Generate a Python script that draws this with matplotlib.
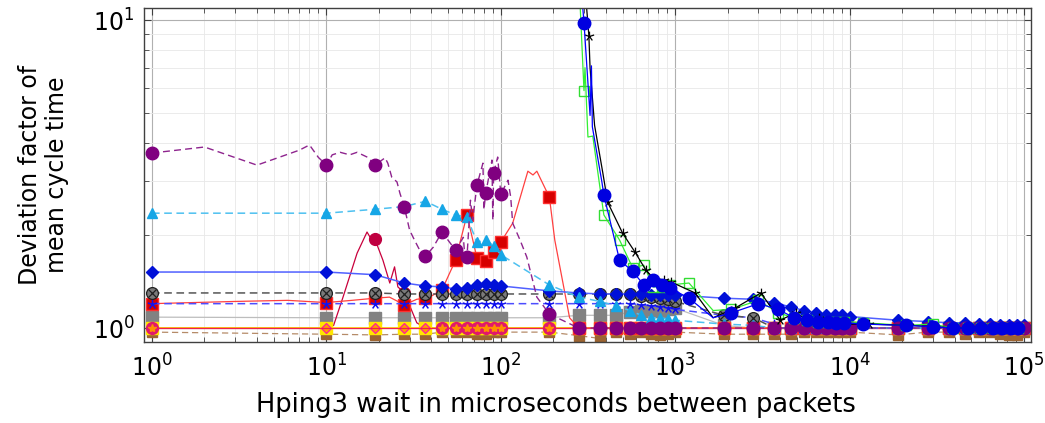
import numpy as np
import matplotlib
matplotlib.use("Agg")
import matplotlib.pyplot as plt
from matplotlib.path import Path
from matplotlib.ticker import LogLocator, NullFormatter

plt.rcParams["font.family"] = ["DejaVu Sans"]
plt.rcParams["mathtext.default"] = "regular"

# marker positions shared by most series (wait in microseconds)
X = [1, 10, 19, 28, 37, 46, 55, 64, 73, 82, 91, 100,
     190, 280, 370, 460, 550, 640, 730, 820, 910, 1000,
     1900, 2800, 3700, 4600, 5500, 6400, 7300, 8200, 9100, 10000,
     19000, 28000, 37000, 46000, 55000, 64000, 73000, 82000, 91000, 100000]

purple = [3.70, 3.38, 3.38, 2.47, 1.71, 2.05, 1.79, 1.70, 2.91, 2.74, 3.18, 2.72,
          1.11, 1.0, 1.0, 1.0, 1.0, 1.0, 1.0, 1.0, 1.0, 1.0,
          1.0, 1.0, 1.0, 1.0, 1.0, 1.0, 1.0, 1.0, 1.0, 1.0,
          1.0, 1.0, 1.0, 1.0, 1.0, 1.0, 1.0, 1.0, 1.0, 1.0]
purple_x_extra = [2, 4, 7, 8, 9, 10.8, 12, 13.6, 15, 17.3, 21.7, 22.5, 23.7, 25.4, 26.4,
                  30, 32, 35, 41, 61, 62, 67, 69, 79, 80, 89, 90, 96, 110, 114, 117,
                  129, 141, 161]
purple_y_extra = [3.87, 3.38, 3.78, 3.93, 3.58, 3.65, 3.72, 3.65, 3.72, 3.58, 3.57, 3.43,
                  3.09, 2.98, 2.74, 2.08, 1.93, 1.75, 1.83, 1.97, 1.75, 2.60, 2.24, 3.43,
                  2.42, 3.51, 2.24, 3.59, 3.02, 2.66, 2.19, 1.93, 1.70, 1.26]

skyblue = [2.36, 2.36, 2.43, 2.48, 2.58, 2.43, 2.33, 2.29, 1.90, 1.93, 1.85, 1.73,
           1.38, 1.26, 1.22, 1.18, 1.14, 1.10, 1.08, 1.08, 1.07, 1.06,
           1.03, 1.02, 1.0, 1.0, 1.0, 1.0, 1.0, 1.0, 1.0, 1.0,
           1.0, 1.0, 1.0, 1.0, 1.0, 1.0, 1.0, 1.0, 1.0, 1.0]

diamond_blue = [1.52, 1.52, 1.49, 1.40, 1.37, 1.36, 1.34, 1.35, 1.38, 1.39, 1.38, 1.37,
                1.32, 1.30, 1.29, 1.29, 1.29, 1.29, 1.28, 1.28, 1.28, 1.28,
                1.25, 1.24, 1.21, 1.17, 1.14, 1.12, 1.10, 1.10, 1.10, 1.09,
                1.06, 1.05, 1.04, 1.04, 1.03, 1.03, 1.02, 1.02, 1.02, 1.02]

gray_x = [1.30, 1.30, 1.30, 1.29, 1.29, 1.29, 1.29, 1.29, 1.29, 1.29, 1.29, 1.29,
          1.29, 1.29, 1.29, 1.29, 1.29, 1.27, 1.26, 1.25, 1.24, 1.22,
          1.10, 1.08, 1.0, 1.0, 1.0, 1.0, 1.0, 1.0, 1.0, 1.0,
          1.0, 1.0, 1.0, 1.0, 1.0, 1.0, 1.0, 1.0, 1.0, 1.0]

blue_star = [1.20, 1.20, 1.20, 1.20, 1.20, 1.20, 1.20, 1.20, 1.20, 1.20, 1.20, 1.20,
             1.20, 1.20, 1.20, 1.20, 1.20, 1.19, 1.18, 1.17, 1.16, 1.15,
             1.10, 1.08, 1.03, 1.0, 1.0, 1.0, 1.0, 1.0, 1.0, 1.0,
             1.0, 1.0, 1.0, 1.0, 1.0, 1.0, 1.0, 1.0, 1.0, 1.0]

red = [1.20, 1.21, 1.25, 1.19, 1.25, 1.33, 1.66, 2.33, 1.69, 1.65, 1.77, 1.90,
       2.66, 1.0, 1.0, 1.0, 1.0, 1.0, 1.0, 1.0, 1.0, 1.0,
       1.0, 1.0, 1.0, 1.0, 1.0, 1.0, 1.0, 1.0, 1.0, 1.0,
       1.0, 1.0, 1.0, 1.0, 1.0, 1.0, 1.0, 1.0, 1.0, 1.0]
red_x_extra = [3, 6, 14, 23, 33, 41, 117, 143, 153, 161, 204, 248]
red_y_extra = [1.22, 1.23, 1.23, 1.26, 1.24, 1.28, 2.19, 3.23, 3.14, 3.23, 1.93, 1.08]

crimson = [1.0, 1.0, 1.94, 1.30, 1.0, 1.0, 1.0, 1.0, 1.0, 1.0, 1.0, 1.0,
           1.0, 1.0, 1.0, 1.0, 1.0, 1.0, 1.0, 1.0, 1.0, 1.0,
           1.0, 1.0, 1.0, 1.0, 1.0, 1.0, 1.0, 1.0, 1.0, 1.0,
           1.0, 1.0, 1.0, 1.0, 1.0, 1.0, 1.0, 1.0, 1.0, 1.0]
crimson_x_extra = [11, 12.4, 15, 17.1, 18.3, 21.1, 23.1, 24.6, 25.7, 33]
crimson_y_extra = [1.02, 1.25, 1.75, 2.05, 1.92, 1.66, 1.40, 1.58, 1.36, 1.04]

gray_sq = [1.085, 1.08, 1.08, 1.08, 1.08, 1.08, 1.08, 1.08, 1.08, 1.08, 1.08, 1.08,
           1.08, 1.10, 1.10, 1.10, 1.13, 1.14, 1.14, 1.14, 1.15, 1.16,
           1.02, 1.0, 1.0, 1.0, 1.0, 1.0, 1.0, 1.0, 1.0, 1.0,
           1.0, 1.0, 1.0, 1.0, 1.0, 1.0, 1.0, 1.0, 1.0, 1.0]

yellow = [1.0, 1.0, 1.0, 1.0, 1.0, 1.0, 1.0, 1.0, 1.0, 1.0, 1.0, 1.0,
          1.0, 1.0, 1.0, 1.0, 1.0, 1.0, 1.0, 1.0, 1.0, 1.0,
          1.0, 1.0, 1.0, 1.0, 1.0, 1.0, 1.0, 1.0, 1.0, 1.0,
          1.0, 1.0, 1.0, 1.0, 1.0, 1.0, 1.0, 1.0, 1.0, 1.0]

orange_diamond = [1.0, 1.0, 1.0, 1.0, 1.0, 1.0, 1.0, 1.0, 1.0, 1.0, 1.0, 1.0,
                  1.0, 1.0, 1.0, 1.0, 1.0, 1.0, 1.0, 1.0, 1.0, 1.0,
                  1.0, 1.0, 1.0, 1.0, 1.0, 1.0, 1.0, 1.0, 1.0, 1.0,
                  1.0, 1.0, 1.0, 1.0, 1.0, 1.0, 1.0, 1.0, 1.0, 1.0]

pink = [1.0, 1.0, 1.0, 1.0, 1.0, 1.0, 1.0, 1.0, 1.0, 1.0, 1.0, 1.0,
        1.0, 1.0, 1.0, 1.0, 1.0, 1.0, 1.0, 1.0, 1.0, 1.0,
        1.0, 1.0, 1.0, 1.0, 1.0, 1.0, 1.0, 1.0, 1.0, 1.0,
        1.0, 1.0, 1.0, 1.0, 1.0, 1.0, 1.0, 1.0, 1.0, 1.0]

brown = [0.97, 0.955, 0.95, 0.955, 0.955, 0.97, 0.97, 0.97, 0.955, 0.955, 0.97, 0.97,
         0.97, 0.945, 0.925, 0.97, 0.955, 0.97, 0.955, 0.95, 0.96, 0.97,
         0.955, 0.955, 0.955, 0.955, 0.97, 0.97, 0.97, 0.97, 0.97, 0.97,
         0.95, 0.97, 0.97, 0.955, 0.97, 0.97, 0.96, 0.95, 0.95, 0.97]

# series that only start around 300 us use their own sampling
LATE_X = [300, 390, 480, 570, 660, 750, 840, 930, 1200, 2100, 3000, 3900, 4800, 5700,
          6600, 7500, 8400, 9300, 12000, 21000, 30000, 39000, 48000, 57000, 66000,
          75000, 84000, 93000]
blue_circ = [9.8, 2.70, 1.66, 1.53, 1.38, 1.43, 1.38, 1.35, 1.25, 1.12, 1.20, 1.15,
             1.08, 1.06, 1.05, 1.05, 1.04, 1.04, 1.03, 1.02, 1.01, 1.0, 1.0, 1.0,
             1.0, 1.0, 1.0, 1.0]
blue_x_extra = [285, 325, 331, 335, 380, 1650]
blue_y_extra = [14, 4.9, 7.1, 4.5, 2.98, 1.08]

green = [5.9, 2.33, 1.93, 1.57, 1.60, 1.36, 1.36, 1.38, 1.40, 1.15, 1.23, 1.12,
         1.08, 1.06, 1.05, 1.05, 1.05, 1.05, 1.04, 1.02, 1.03, 1.0, 1.0, 1.0,
         1.0, 1.0, 1.0, 1.0]
green_x_extra = [280, 304, 316, 337, 370, 1650]
green_y_extra = [14, 7.0, 4.17, 4.2, 2.87, 1.14]

BLACK_X = [300, 320, 410, 500, 590, 680, 770, 860, 950, 1300, 2200, 3100, 4000, 4900,
           5800, 6700, 7600, 8500, 9400, 13000, 22000, 31000, 40000, 49000, 58000,
           67000, 76000, 85000, 94000]
black = [14, 8.87, 2.56, 2.03, 1.76, 1.54, 1.43, 1.43, 1.41, 1.30, 1.16, 1.30, 1.06,
         1.12, 1.06, 1.08, 1.05, 1.04, 1.03, 1.03, 1.02, 1.01, 1.0, 1.0, 1.0, 1.0,
         1.0, 1.0, 1.0]
black_x_extra = [325, 345, 385, 1650]
black_y_extra = [7.0, 4.55, 3.18, 1.08]


def merged(xs, ys, ex, ey):
    pts = sorted(zip(list(xs) + list(ex), list(ys) + list(ey)))
    return [p[0] for p in pts], [p[1] for p in pts]


# pgfplots style "star": five rays from the centre
rays = []
codes = []
for k in range(5):
    a = np.deg2rad(90 + 72 * k)
    rays += [(0, 0), (np.cos(a), np.sin(a))]
    codes += [Path.MOVETO, Path.LINETO]
STAR = Path(rays, codes)

fig = plt.figure(figsize=(10.45, 4.23), dpi=100)
ax = fig.add_axes([0.1378, 0.1915, 0.8488, 0.7896])
ax.set_xscale("log")
ax.set_yscale("log")

lw = 0.9

# brown, dashed
ax.plot(X, brown, color="#b58b68", lw=lw, ls=(0, (5, 3)))
ax.plot(X, brown, ls="none", marker="s", ms=7.5, color="#9c6431", mec="#9c6431")

# light gray squares
ax.plot(X, gray_sq, color="#bdbdbd", lw=lw)
ax.plot(X, gray_sq, ls="none", marker="s", ms=8.5, color="#828282", mec="#828282")

# crimson circles
xl, yl = merged(X, crimson, crimson_x_extra, crimson_y_extra)
ax.plot(xl, yl, color="#c8003c", lw=lw)
ax.plot(X, crimson, ls="none", marker="o", ms=8.5, color="#bf0040", mec="#bf0040")

# yellow squares with diamonds
ax.plot(X, yellow, color="#ffd800", lw=1.2)
ax.plot(X, yellow, ls="none", marker="s", ms=9, color="#ffe600", mec="#ffe600")
ax.plot(X, orange_diamond, ls="none", marker="D", ms=5.5, mfc="#ff9d00", mec="#ff1aa0", mew=0.9)

# pink circles with orange stars
ax.plot(X, pink, color="#f0204a", lw=lw)
idx = [0] + list(range(5, len(X)))
ax.plot(X, pink, ls="none", marker="o", ms=8.5, color="#e0186c", mec="#e0186c", markevery=idx)
ax.plot(X, pink, ls="none", marker="*", ms=6, color="#ff9000", mec="#ff9000", markevery=idx)

# red squares
xl, yl = merged(X, red, red_x_extra, red_y_extra)
ax.plot(xl, yl, color="#ff4040", lw=lw)
ax.plot(X, red, ls="none", marker="s", ms=8.5, color="#d60000", mec="#ff3030")

# blue stars, dashed
ax.plot(X, blue_star, color="#4d4dff", lw=1.1, ls=(0, (5, 3)))
ax.plot(X, blue_star, ls="none", marker=STAR, ms=7, mfc="none", mec="#1010ee", mew=1.1)

# gray circles with a cross, dashed
ax.plot(X, gray_x, color="#555555", lw=1.1, ls=(0, (5, 3)))
ax.plot(X, gray_x, ls="none", marker="o", ms=8.5, mfc="#7a7a7a", mec="#202020", mew=0.9)
ax.plot(X, gray_x, ls="none", marker="x", ms=5.5, color="#202020", mew=0.9)

# blue diamonds
ax.plot(X, diamond_blue, color="#5060ff", lw=1.1)
ax.plot(X, diamond_blue, ls="none", marker="D", ms=6, color="#0010d8", mec="#0010d8")

# sky blue triangles, dashed
ax.plot(X, skyblue, color="#4dc0f0", lw=1.1, ls=(0, (5, 3)))
ax.plot(X, skyblue, ls="none", marker="^", ms=7.5, color="#16a6e6", mec="#16a6e6")

# purple circles, dashed
xl, yl = merged(X, purple, purple_x_extra, purple_y_extra)
ax.plot(xl, yl, color="#8e248e", lw=1.0, ls=(0, (5, 3)))
ax.plot(X, purple, ls="none", marker="o", ms=9, color="#800080", mec="#800080")

# green hollow squares
xl, yl = merged(LATE_X, green, green_x_extra, green_y_extra)
ax.plot(xl, yl, color="#33ee33", lw=lw)
ax.plot(LATE_X, green, ls="none", marker="s", ms=7.5, mfc="none", mec="#33dd33", mew=1.0)

# black stars
xl, yl = merged(BLACK_X, black, black_x_extra, black_y_extra)
ax.plot(xl, yl, color="black", lw=lw)
ax.plot(BLACK_X, black, ls="none", marker=STAR, ms=7, mfc="none", mec="black", mew=0.9)

# blue circles
xl, yl = merged(LATE_X, blue_circ, blue_x_extra, blue_y_extra)
ax.plot(xl, yl, color="#0000ff", lw=lw)
ax.plot(LATE_X, blue_circ, ls="none", marker="o", ms=9, color="#0000e0", mec="#0000e0")

ax.set_xlim(0.9, 1.097e5)
ax.set_ylim(0.901, 10.94)

ax.xaxis.set_major_locator(LogLocator(base=10, numticks=10))
ax.xaxis.set_minor_locator(LogLocator(base=10, subs=np.arange(2, 10), numticks=20))
ax.yaxis.set_major_locator(LogLocator(base=10, numticks=10))
ax.yaxis.set_minor_locator(LogLocator(base=10, subs=np.arange(2, 10), numticks=20))
ax.xaxis.set_minor_formatter(NullFormatter())
ax.yaxis.set_minor_formatter(NullFormatter())

ax.grid(which="major", color="#b0b0b0", lw=0.8)
ax.grid(which="minor", color="#e8e8e8", lw=0.6)
ax.set_axisbelow(True)

ax.tick_params(which="both", direction="in", top=True, right=True, colors="#404040",
               labelcolor="black", labelsize=17)
ax.tick_params(which="major", length=5, width=0.8)
ax.tick_params(axis="x", which="major", pad=9)
ax.tick_params(axis="y", which="major", pad=7)
ax.tick_params(which="minor", length=3.5, width=0.6)
for s in ax.spines.values():
    s.set_color("#404040")
    s.set_linewidth(1.0)

ax.set_xlabel("Hping3 wait in microseconds between packets", fontsize=18.5)
ax.xaxis.set_label_coords(0.4645, -0.150)
ax.set_ylabel("Deviation factor of\nmean cycle time", fontsize=17, linespacing=1.15)
ax.yaxis.set_label_coords(-0.085, 0.5)

fig.savefig("out.png", dpi=100)
